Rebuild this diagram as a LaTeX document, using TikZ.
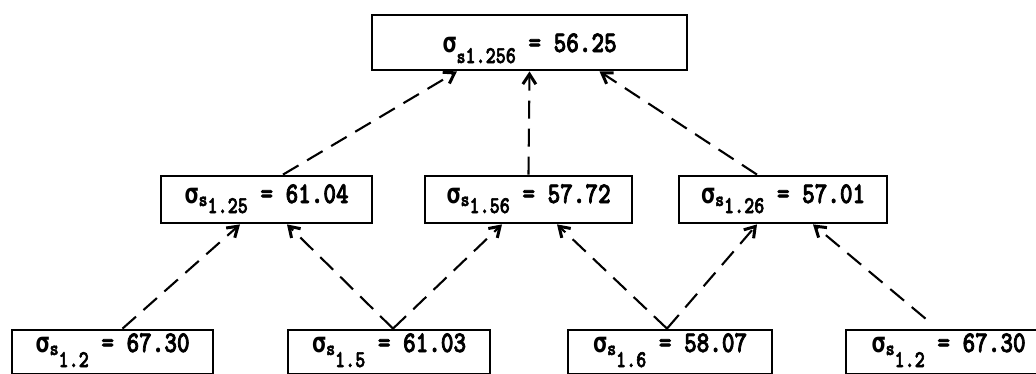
\documentclass[tikz,border=0pt]{standalone}
\usepackage{fontspec}
\newfontfamily\tw[FakeStretch=0.8,FakeBold=2.5]{lmmonolt10-bold.otf}
\newfontfamily\gk[FakeStretch=0.85]{DejaVu Sans Mono}
\usetikzlibrary{arrows.meta}
\newcommand\subS{\fontsize{21}{21}\selectfont}
\newcommand\subN{\fontsize{24}{24}\selectfont}
\newcommand\sgs{{\gk\bfseries\fontsize{28}{28}\selectfont σ}}
% #1 lowering of s, #2 lowering of number, #3 number, #4 value
\newcommand\sgm[4]{\sgs\raisebox{#1}{\subS s}\raisebox{#2}{\subN #3} = #4}
\begin{document}
\begin{tikzpicture}[x=1pt,y=-1pt,
  box/.style={draw, line width=2.8pt, inner sep=0pt, anchor=center,
    font=\tw\fontsize{30}{30}\selectfont},
  topbox/.style={box, text height=37pt, text depth=18pt},
  midbox/.style={box, text height=27pt, text depth=20pt},
  botbox/.style={box, text height=22pt, text depth=22pt},
  conn/.style={line width=2.1pt, dash pattern=on 18pt off 10pt,
    -{Straight Barb[length=10pt,width=13pt,line width=3pt]}}]
\useasboundingbox (0,0) rectangle (1036,373);
\clip (0,0) rectangle (1036,373);

\node[topbox, minimum width=315pt] (t) at (529.5,42.5)
  {\sgs\raisebox{-11pt}{\subS s\subN 1.256} = 56.25};

\node[midbox, minimum width=211pt] (m1) at (266.5,199.5) {\sgm{-3pt}{-10pt}{1.25}{61.04}};
\node[midbox, minimum width=207pt] (m2) at (528.5,199.5) {\sgm{-3pt}{-10pt}{1.56}{57.72}};
\node[midbox, minimum width=208pt] (m3) at (783,199.5) {\sgm{-3pt}{-10pt}{1.26}{57.01}};

\node[botbox, minimum width=201pt] (b1) at (112.5,352) {\sgm{-3pt}{-15pt}{1.2}{67.30}};
\node[botbox, minimum width=202pt] (b2) at (389,352) {\sgm{-3pt}{-15pt}{1.5}{61.03}};
\node[botbox, minimum width=204pt] (b3) at (670,352) {\sgm{-3pt}{-15pt}{1.6}{58.07}};
\node[botbox, minimum width=205pt] (b4) at (948.5,352) {\sgm{-3pt}{-15pt}{1.2}{67.30}};

% middle -> top
\draw[conn] ([xshift=16.5pt]m1.north) -- ([xshift=-72.5pt]t.south);
\draw[conn] (m2.north) -- (t.south);
\draw[conn] ([xshift=-26pt]m3.north) -- ([xshift=70pt]t.south);

% bottom -> middle
\draw[conn] ([xshift=10pt]b1.north) -- ([xshift=-26.5pt]m1.south);
\draw[conn] ([xshift=4pt]b2.north) -- ([xshift=20.5pt]m1.south);
\draw[conn] ([xshift=4pt]b2.north) -- ([xshift=-26.5pt]m2.south);
\draw[conn] ([xshift=-3pt]b3.north) -- ([xshift=28.5pt]m2.south);
\draw[conn] ([xshift=-3pt]b3.north) -- ([xshift=-26pt]m3.south);
\draw[conn] ([xshift=-23pt,yshift=10pt]b4.north) -- ([xshift=30pt]m3.south);
\end{tikzpicture}
\end{document}
